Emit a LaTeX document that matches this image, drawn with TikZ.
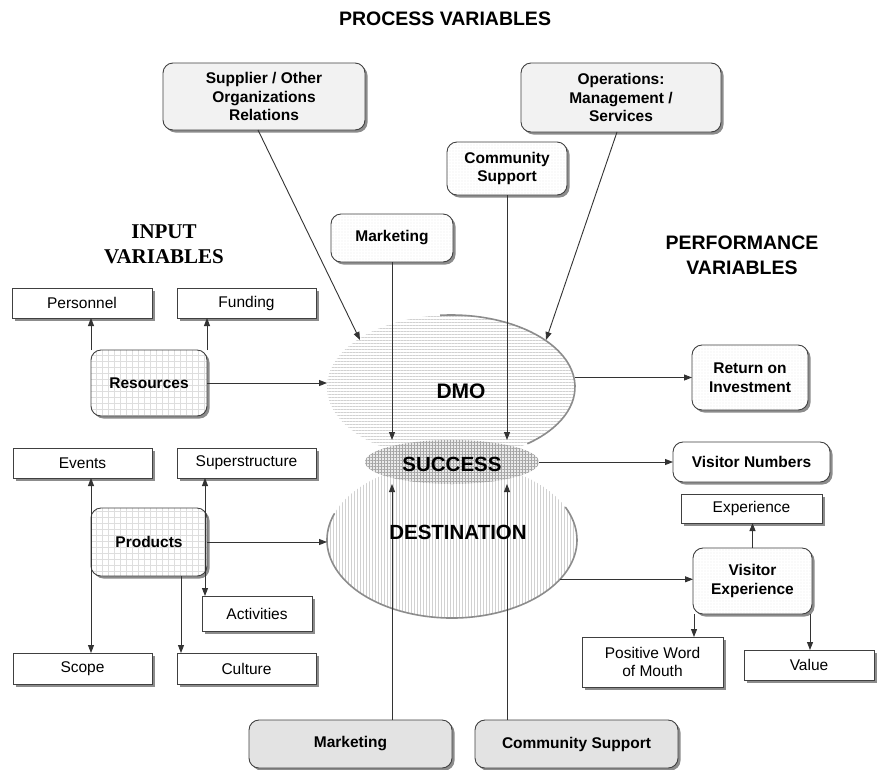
\documentclass[tikz,border=0pt]{standalone}
\usepackage{fontspec}
\setmainfont{Liberation Sans}
\newfontfamily\timesf{Liberation Serif}
\usetikzlibrary{shapes.geometric,arrows.meta,shadows,patterns.meta}
\begin{document}
\begin{tikzpicture}[x=1pt,y=-1pt,
  txt/.style={font=\fontsize{15.5}{18.5}\selectfont, align=center},
  bold/.style={font=\bfseries\fontsize{15.5}{18.5}\selectfont, align=center},
  base/.style={draw=black!75, line width=0.9pt, inner sep=0pt, outer sep=0pt,
    drop shadow={shadow xshift=2.5pt, shadow yshift=-2.5pt, fill=black!45, opacity=1}},
  sqbox/.style={base, fill=white, txt},
  rbox/.style={base, rounded corners=10pt, bold},
  plainr/.style={rbox, fill=white},
  grayr/.style={rbox, fill=black!11},
  lgrayr/.style={rbox, fill=black!5},
  gridr/.style={rbox, preaction={fill=white}, pattern={Hatch[angle=0,distance=6pt,line width=0.4pt]}, pattern color=black!13},
  dotr/.style={rbox, preaction={fill=white}, pattern={Dots[distance=3pt,radius=0.45pt]}, pattern color=black!20},
  arr/.style={draw=black!80, line width=0.9pt, -{Triangle[length=8pt,width=6pt]}},
  darr/.style={draw=black!80, line width=0.9pt, {Triangle[length=8pt,width=6pt]}-{Triangle[length=8pt,width=6pt]}},
  sz/.style 2 args={minimum width=#1pt, minimum height=#2pt},
  ellout/.style={draw=black!45, line width=1.6pt},
  elab/.style={font=\bfseries\fontsize{20.5}{24}\selectfont, inner sep=0pt}
]
\path[use as bounding box, fill=white] (0,0) rectangle (877,769);

% ellipses
\node[ellipse, minimum width=250pt, minimum height=156pt, inner sep=0pt, outer sep=0pt,
  preaction={fill=white}, pattern={Lines[angle=90,distance=3pt,line width=0.5pt]}, pattern color=black!18] (dest) at (452,540) {};
\node[ellipse, minimum width=248pt, minimum height=144pt, inner sep=0pt, outer sep=0pt,
  preaction={fill=white}, pattern={Lines[angle=0,distance=3pt,line width=0.5pt]}, pattern color=black!18] (dmo) at (451,387) {};
\node[ellipse, minimum width=174pt, minimum height=44pt, inner sep=0pt, outer sep=0pt,
  preaction={fill=black!8}, pattern={Hatch[angle=0,distance=3pt,line width=0.5pt]}, pattern color=black!35] (succ) at (452,462) {};
\draw[ellout] (dest.center) ++(160:125pt and 78pt) arc[start angle=160, end angle=385, x radius=125pt, y radius=78pt];
\draw[ellout] (dmo.center) ++(95:124pt and 72pt) arc[start angle=95, end angle=-52, x radius=124pt, y radius=72pt];

% titles
\node[font=\bfseries\fontsize{19.5}{22}\selectfont] (ptitle) at (445,19) {PROCESS VARIABLES};
\node[font=\timesf\bfseries\fontsize{21}{25}\selectfont, align=center] (ivar) at (164,244) {INPUT\\VARIABLES};
\node[font=\bfseries\fontsize{19.5}{25}\selectfont, align=center] (pvar) at (742,255) {PERFORMANCE\\VARIABLES};

% process boxes
\node[lgrayr, sz={202}{67}] (sup) at (264,96.5) {Supplier / Other\\Organizations\\Relations};
\node[lgrayr, sz={200}{69}] (ops) at (621,97.5) {Operations:\\Management /\\Services};
\node[dotr, sz={120}{53}] (csT) at (507,168.5) {Community\\Support};
\node[dotr, sz={122}{48}] (mkT) at (392,238) {Marketing};
\node[grayr, sz={203}{48}] (mkB) at (350.5,744) {Marketing};
\node[grayr, sz={203}{48}] (csB) at (576.5,744) {Community Support};

% input side
\node[sqbox, sz={140}{30}] (pers) at (82,303) {Personnel};
\node[sqbox, sz={139}{30}] (fund) at (246.5,303) {Funding};
\node[gridr, sz={116}{66}] (res) at (149,383) {Resources};
\node[sqbox, sz={139}{30}] (events) at (82.5,463) {Events};
\node[sqbox, sz={139}{30}] (super) at (246.5,463) {Superstructure};
\node[gridr, sz={116}{68}] (prod) at (149,542) {Products};
\node[sqbox, sz={110}{35}] (act) at (257,613.5) {Activities};
\node[sqbox, sz={139}{31}] (scope) at (82.5,668.5) {Scope};
\node[sqbox, sz={139}{31}] (cult) at (246.5,668.5) {Culture};

% performance side
\node[dotr, sz={116}{65}] (roi) at (750,377.5) {Return on\\Investment};
\node[plainr, sz={157}{40}] (vn) at (751.5,462) {Visitor Numbers};
\node[sqbox, sz={141}{29}] (exp) at (751.5,508.5) {Experience};
\node[dotr, sz={119}{66}] (ve) at (752.5,581) {Visitor\\Experience};
\node[sqbox, sz={141}{50}] (pwom) at (652.5,662) {Positive Word\\of Mouth};
\node[sqbox, sz={130}{30}] (val) at (809,665) {Value};

% connectors
\coordinate (dmoinA) at (360,340);
\coordinate (dmoinB) at (546,340);
\draw[arr] ([xshift=-6pt]sup.south) -- (dmoinA);
\draw[arr] ([xshift=-4pt]ops.south) -- (dmoinB);
\draw[arr] (mkT.south) -- (mkT.south |- succ.north);
\draw[arr] (csT.south) -- (csT.south |- succ.north);
\draw[arr] (mkB.north -| mkT.south) -- (mkT.south |- succ.south);
\draw[arr] (csB.north -| csT.south) -- (csT.south |- succ.south);

\draw[arr] (res.north west) -- (res.north west |- pers.south);
\draw[arr] (res.north east) -- (res.north east |- fund.south);
\draw[arr] (res.east) -- (res.east -| dmo.west);
\draw[darr] (events.south -| prod.west) -- (scope.north -| prod.west);
\draw[darr] ([xshift=-2pt]super.south -| prod.east) -- ([xshift=-2pt]act.north -| prod.east);
\draw[arr] ([xshift=32pt]prod.south) -- ([xshift=32pt]prod.south |- cult.north);
\draw[arr] (prod.east) -- (prod.east -| dest.west);

\draw[arr] (roi.west -| dmo.east) -- (roi.west);
\draw[arr] (succ.east) -- (succ.east -| vn.west);
\draw[arr] (dest.-20) -- (dest.-20 -| ve.west);
\draw[arr] (ve.north) -- (ve.north |- exp.south);
\draw[arr] ([xshift=1pt]ve.south west) -- ([xshift=1pt]ve.south west |- pwom.north);
\draw[arr] ([xshift=-2pt]ve.south east) -- ([xshift=-2pt]ve.south east |- val.north);

% ellipse labels
\node[elab, font=\bfseries\fontsize{21}{24}\selectfont] (dmol) at (461,391) {DMO};
\node[elab] (succl) at (452,464) {SUCCESS};
\node[elab] (destl) at (458,532) {DESTINATION};
\end{tikzpicture}
\end{document}
